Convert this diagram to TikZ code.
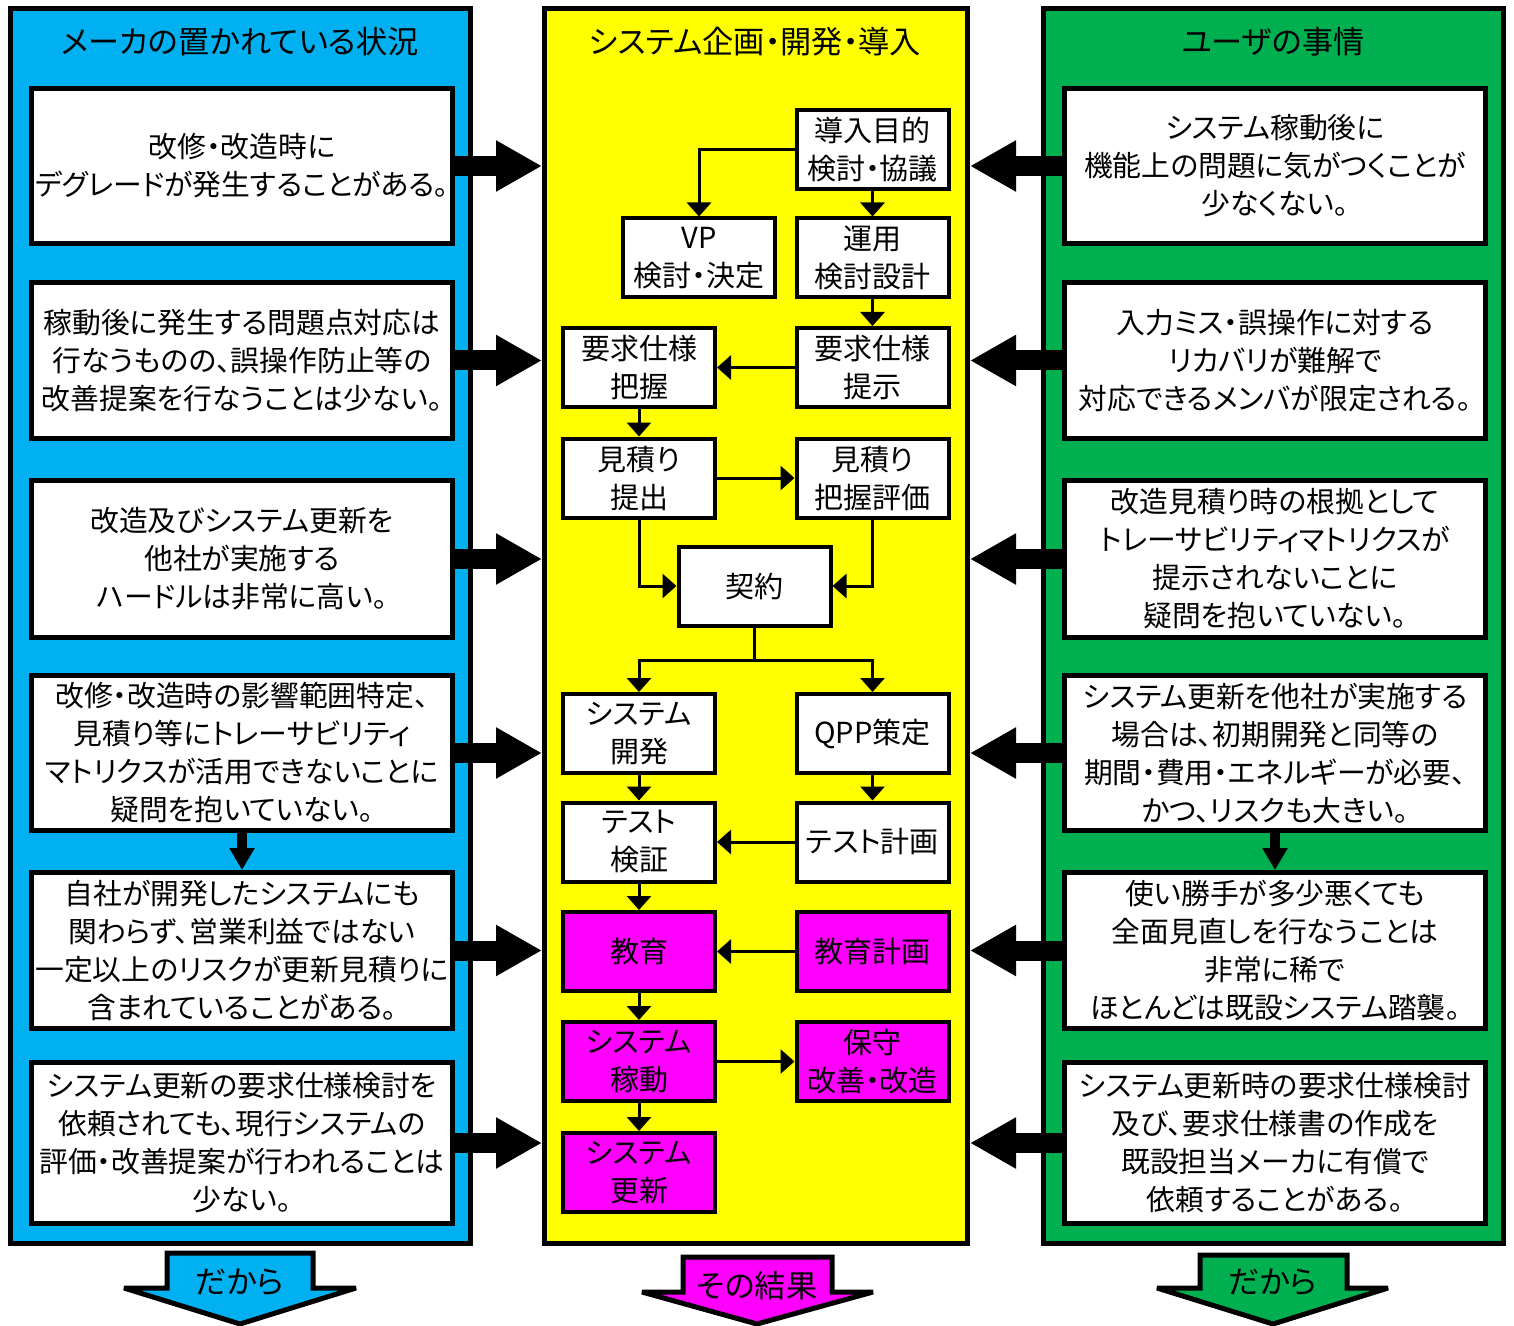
\documentclass[tikz,border=0pt]{standalone}
\usepackage{fontspec}
\setmainfont{Noto Sans CJK JP}[RawFeature={+palt}]
\usetikzlibrary{arrows.meta}
\definecolor{pblue}{RGB}{0,176,240}
\definecolor{pyel}{RGB}{255,255,0}
\definecolor{pgrn}{RGB}{0,176,80}
\definecolor{pmag}{RGB}{255,0,255}
\newcommand\bodyfont{\fontsize{14.4}{19}\selectfont}
\newcommand\midfont{\fontsize{14.5}{19}\selectfont}
\newcommand\ttlfont{\fontsize{15.6}{19}\selectfont}
\begin{document}
\begin{tikzpicture}[x=0.5pt,y=-0.5pt,
  panel/.style={draw, line width=2.5pt, minimum height=617.5pt, inner sep=0pt},
  titlet/.style={inner sep=0pt, font=\ttlfont},
  lbox/.style={draw, fill=white, line width=2.5pt, minimum width=210.5pt, minimum height=#1, inner sep=0pt, align=center, font=\bodyfont},
  mbox/.style={draw, fill=white, line width=2pt, minimum width=76pt, minimum height=39.5pt, inner sep=0pt, align=center, font=\midfont},
  mag/.style={mbox, fill=pmag},
  conn/.style={line width=1.5pt, -{Triangle[width=12pt,length=7pt]}},
  plainline/.style={line width=1.5pt},
  bigarrow/.style={line width=10pt, -{Triangle[width=24pt,length=23pt]}},
  smallarrow/.style={line width=5pt, -{Triangle[width=12pt,length=11pt]}},
  blk/.style={draw, line width=2.5pt, line join=miter, miter limit=3}
]
\useasboundingbox (0,0) rectangle (1514,1326);
\fill[white] (0,0) rectangle (1514,1326);

% panels
\node[panel, fill=pblue, minimum width=230pt] (LP) at (240.5,626) {};
\node[panel, fill=pyel, minimum width=211.5pt] (MP) at (756,626) {};
\node[panel, fill=pgrn, minimum width=230pt] (RP) at (1273.5,626) {};

\node[titlet] (LT) at (240,42) {メーカの置かれている状況};
\node[titlet] (MT) at (755,42) {システム企画・開発・導入};
\node[titlet] (RT) at (1273,42) {ユーザの事情};

% left boxes
\node[lbox=77.5pt] (L1) at (242,166) {改修・改造時に\\デグレードが発生することがある。};
\node[lbox=78pt] (L2) at (242,360.5) {稼動後に発生する問題点対応は\\行なうものの、誤操作防止等の\\改善提案を行なうことは少ない。};
\node[lbox=78.5pt] (L3) at (242,559) {改造及びシステム更新を\\他社が実施する\\ハードルは非常に高い。};
\node[lbox=77.5pt] (L4) at (242,753) {改修・改造時の影響範囲特定、\\見積り等にトレーサビリティ\\マトリクスが活用できないことに\\疑問を抱いていない。};
\node[lbox=78pt] (L5) at (242,950.5) {自社が開発したシステムにも\\関わらず、営業利益ではない\\一定以上のリスクが更新見積りに\\含まれていることがある。};
\node[lbox=80.5pt] (L6) at (242,1143) {システム更新の要求仕様検討を\\依頼されても、現行システムの\\評価・改善提案が行われることは\\少ない。};

% right boxes
\node[lbox=77.5pt] (R1) at (1275,166) {システム稼動後に\\機能上の問題に気がつくことが\\少なくない。};
\node[lbox=78pt] (R2) at (1275,360.5) {入力ミス・誤操作に対する\\リカバリが難解で\\対応できるメンバが限定される。};
\node[lbox=78.5pt] (R3) at (1275,559) {改造見積り時の根拠として\\トレーサビリティマトリクスが\\提示されないことに\\疑問を抱いていない。};
\node[lbox=77.5pt] (R4) at (1275,753) {システム更新を他社が実施する\\場合は、初期開発と同等の\\期間・費用・エネルギーが必要、\\かつ、リスクも大きい。};
\node[lbox=78pt] (R5) at (1275,950.5) {使い勝手が多少悪くても\\全面見直しを行なうことは\\非常に稀で\\ほとんどは既設システム踏襲。};
\node[lbox=80.5pt] (R6) at (1275,1143) {システム更新時の要求仕様検討\\及び、要求仕様書の作成を\\既設担当メーカに有償で\\依頼することがある。};

% middle boxes
\node[mbox] (A) at (872.5,149.5) {導入目的\\検討・協議};
\node[mbox] (VP) at (699,258) {VP\\検討・決定};
\node[mbox] (U) at (872.5,258) {運用\\検討設計};
\node[mbox] (Q1) at (639,367.5) {要求仕様\\把握};
\node[mbox] (Q2) at (872.5,367.5) {要求仕様\\提示};
\node[mbox] (E1) at (639,478) {見積り\\提出};
\node[mbox] (E2) at (872.5,478) {見積り\\把握評価};
\node[mbox] (K) at (754.5,586) {契約};
\node[mbox] (D) at (639,733.5) {システム\\開発};
\node[mbox] (QPP) at (872.5,733.5) {QPP策定};
\node[mbox] (T1) at (639,842) {テスト\\検証};
\node[mbox] (T2) at (872.5,842) {テスト計画};
\node[mag] (Ed1) at (639,951.5) {教育};
\node[mag] (Ed2) at (872.5,951.5) {教育計画};
\node[mag] (Op) at (639,1061.5) {システム\\稼動};
\node[mag] (Mt) at (872.5,1061.5) {保守\\改善・改造};
\node[mag] (Up) at (639,1172.5) {システム\\更新};

% middle connectors
\draw[conn] (A.west) -| (VP.north);
\draw[conn] (A.south) -- (U.north);
\draw[conn] (U.south) -- (Q2.north);
\draw[conn] (Q2.west) -- (Q1.east);
\draw[conn] (Q1.south) -- (E1.north);
\draw[conn] (E1.east) -- (E2.west);
\draw[conn] (E1.south) |- (K.west);
\draw[conn] (E2.south) |- (K.east);
\coordinate (S) at (754.5,660);
\draw[plainline] (K.south) -- (S);
\draw[conn] (S) -| (D.north);
\draw[conn] (S) -| (QPP.north);
\draw[conn] (D.south) -- (T1.north);
\draw[conn] (QPP.south) -- (T2.north);
\draw[conn] (T2.west) -- (T1.east);
\draw[conn] (T1.south) -- (Ed1.north);
\draw[conn] (Ed2.west) -- (Ed1.east);
\draw[conn] (Ed1.south) -- (Op.north);
\draw[conn] (Op.east) -- (Mt.west);
\draw[conn] (Op.south) -- (Up.north);

% big arrows
\foreach \i in {1,...,6} {
  \draw[bigarrow] (L\i.east) -- (L\i.east -| MP.west);
  \draw[bigarrow] (R\i.west) -- (R\i.west -| MP.east);
}
\draw[smallarrow] (L4.south) -- (L5.north);
\draw[smallarrow] (R4.south) -- (R5.north);

% bottom block arrows
\draw[blk, fill=pblue] (167,1253) -- (313,1253) -- (313,1288) -- (356,1288) -- (240,1324) -- (124,1288) -- (167,1288) -- cycle;
\node[titlet] (BL) at (240,1282) {だから};
\draw[blk, fill=pmag] (683,1257) -- (832,1257) -- (832,1292) -- (873,1292) -- (757,1324) -- (642,1292) -- (683,1292) -- cycle;
\node[titlet] (BM) at (757,1286) {その結果};
\draw[blk, fill=pgrn] (1200,1255) -- (1347,1255) -- (1347,1288) -- (1388,1288) -- (1273,1324) -- (1157,1288) -- (1200,1288) -- cycle;
\node[titlet] (BR) at (1273,1282) {だから};
\end{tikzpicture}
\end{document}
